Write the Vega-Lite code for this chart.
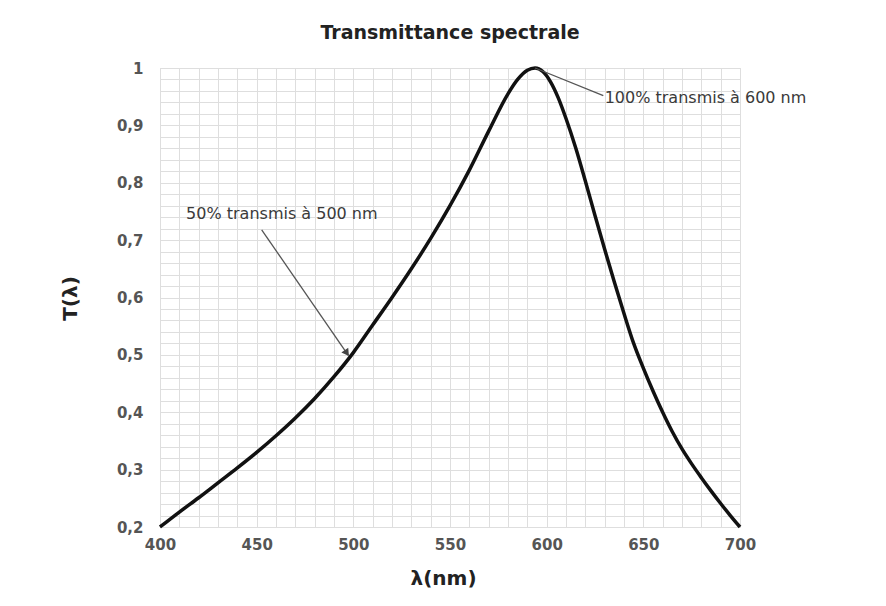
{
  "$schema": "https://vega.github.io/schema/vega-lite/v6.json",
  "width": 580,
  "height": 459,
  "autosize": {"type": "none"},
  "padding": {"left": 160, "top": 68, "right": 146, "bottom": 79},
  "background": "white",
  "title": {
    "text": "Transmittance spectrale",
    "font": "DejaVu Sans",
    "fontSize": 19,
    "fontWeight": "bold",
    "color": "#222",
    "anchor": "middle",
    "offset": 18
  },
  "config": {
    "view": {"stroke": "#d9d9d9"},
    "axis": {
      "grid": true,
      "gridColor": "#dedede",
      "gridWidth": 1,
      "domain": false,
      "ticks": false,
      "labelFont": "DejaVu Sans",
      "labelFontSize": 15,
      "labelFontWeight": "bold",
      "labelColor": "#555",
      "labelOverlap": false,
      "labelFlush": false,
      "titleFont": "DejaVu Sans",
      "titleFontWeight": "bold",
      "titleFontSize": 20,
      "titleColor": "#222"
    }
  },
  "datasets": {
    "curve": [
      {"lambda": 400, "T": 0.2},
      {"lambda": 410, "T": 0.226},
      {"lambda": 420, "T": 0.251},
      {"lambda": 430, "T": 0.277},
      {"lambda": 440, "T": 0.303},
      {"lambda": 450, "T": 0.330},
      {"lambda": 460, "T": 0.359},
      {"lambda": 470, "T": 0.390},
      {"lambda": 480, "T": 0.424},
      {"lambda": 490, "T": 0.462},
      {"lambda": 500, "T": 0.504},
      {"lambda": 510, "T": 0.552},
      {"lambda": 520, "T": 0.600},
      {"lambda": 530, "T": 0.650},
      {"lambda": 540, "T": 0.703},
      {"lambda": 550, "T": 0.760},
      {"lambda": 560, "T": 0.822},
      {"lambda": 570, "T": 0.890},
      {"lambda": 580, "T": 0.955},
      {"lambda": 585, "T": 0.980},
      {"lambda": 590, "T": 0.996},
      {"lambda": 594, "T": 1.0},
      {"lambda": 598, "T": 0.994},
      {"lambda": 602, "T": 0.976},
      {"lambda": 606, "T": 0.948},
      {"lambda": 610, "T": 0.912},
      {"lambda": 615, "T": 0.861},
      {"lambda": 620, "T": 0.803},
      {"lambda": 625, "T": 0.743},
      {"lambda": 630, "T": 0.684},
      {"lambda": 635, "T": 0.627},
      {"lambda": 640, "T": 0.572},
      {"lambda": 645, "T": 0.520},
      {"lambda": 650, "T": 0.477},
      {"lambda": 655, "T": 0.437},
      {"lambda": 660, "T": 0.400},
      {"lambda": 665, "T": 0.366},
      {"lambda": 670, "T": 0.336},
      {"lambda": 675, "T": 0.310},
      {"lambda": 680, "T": 0.286},
      {"lambda": 685, "T": 0.263},
      {"lambda": 690, "T": 0.241},
      {"lambda": 695, "T": 0.220},
      {"lambda": 700, "T": 0.2}
    ],
    "pointers": [
      {"x1": 594, "y1": 1.0, "x2": 629.3, "y2": 0.952},
      {"x1": 452.6, "y1": 0.718, "x2": 497.4, "y2": 0.499}
    ],
    "notes": [
      {"lambda": 630, "T": 0.947, "label": "100% transmis à 600 nm"},
      {"lambda": 413.5, "T": 0.746, "label": "50% transmis à 500 nm"}
    ],
    "heads": [
      {"lambda": 496.3, "T": 0.505}
    ]
  },
  "layer": [
    {
      "data": {"name": "curve"},
      "mark": {"type": "line", "color": "#111", "strokeWidth": 3.5, "interpolate": "monotone"},
      "encoding": {
        "x": {
          "field": "lambda",
          "type": "quantitative",
          "scale": {"domain": [400, 700], "nice": false, "zero": false},
          "axis": {
            "title": "λ(nm)",
            "tickCount": 31,
            "values": [400, 410, 420, 430, 440, 450, 460, 470, 480, 490, 500, 510, 520, 530, 540, 550, 560, 570, 580, 590, 600, 610, 620, 630, 640, 650, 660, 670, 680, 690, 700],
            "labelExpr": "datum.value % 50 == 0 ? format(datum.value, 'd') : ''",
            "labelPadding": 10,
            "titleX": 283,
            "titleY": 51,
            "titleBaseline": "middle",
            "titleAlign": "center"
          }
        },
        "y": {
          "field": "T",
          "type": "quantitative",
          "scale": {"domain": [0.2, 1], "nice": false, "zero": false},
          "axis": {
            "title": "T(λ)",
            "tickCount": 41,
            "values": [0.2, 0.22, 0.24, 0.26, 0.28, 0.3, 0.32, 0.34, 0.36, 0.38, 0.4, 0.42, 0.44, 0.46, 0.48, 0.5, 0.52, 0.54, 0.56, 0.58, 0.6, 0.62, 0.64, 0.66, 0.68, 0.7, 0.72, 0.74, 0.76, 0.78, 0.8, 0.82, 0.84, 0.86, 0.88, 0.9, 0.92, 0.94, 0.96, 0.98, 1],
            "labelExpr": "datum.value == 1 ? '1' : (abs(datum.value*10 - round(datum.value*10)) < 0.001 ? replace(format(datum.value, '.1f'), '.', ',') : '')",
            "labelPadding": 17,
            "titleX": -90,
            "titleY": 230,
            "titleAngle": -90,
            "titleBaseline": "middle",
            "titleAlign": "center"
          }
        }
      }
    },
    {
      "data": {"name": "pointers"},
      "mark": {"type": "rule", "color": "#555", "strokeWidth": 1.3},
      "encoding": {
        "x": {"field": "x1", "type": "quantitative"},
        "y": {"field": "y1", "type": "quantitative"},
        "x2": {"field": "x2"},
        "y2": {"field": "y2"}
      }
    },
    {
      "data": {"name": "heads"},
      "mark": {"type": "point", "shape": "triangle", "angle": 145, "size": 70, "filled": true, "color": "#444", "opacity": 1},
      "encoding": {
        "x": {"field": "lambda", "type": "quantitative"},
        "y": {"field": "T", "type": "quantitative"}
      }
    },
    {
      "data": {"name": "notes"},
      "mark": {"type": "text", "align": "left", "baseline": "middle", "font": "DejaVu Sans", "fontSize": 16, "color": "#3a3a3a"},
      "encoding": {
        "x": {"field": "lambda", "type": "quantitative"},
        "y": {"field": "T", "type": "quantitative"},
        "text": {"field": "label", "type": "nominal"}
      }
    }
  ]
}
